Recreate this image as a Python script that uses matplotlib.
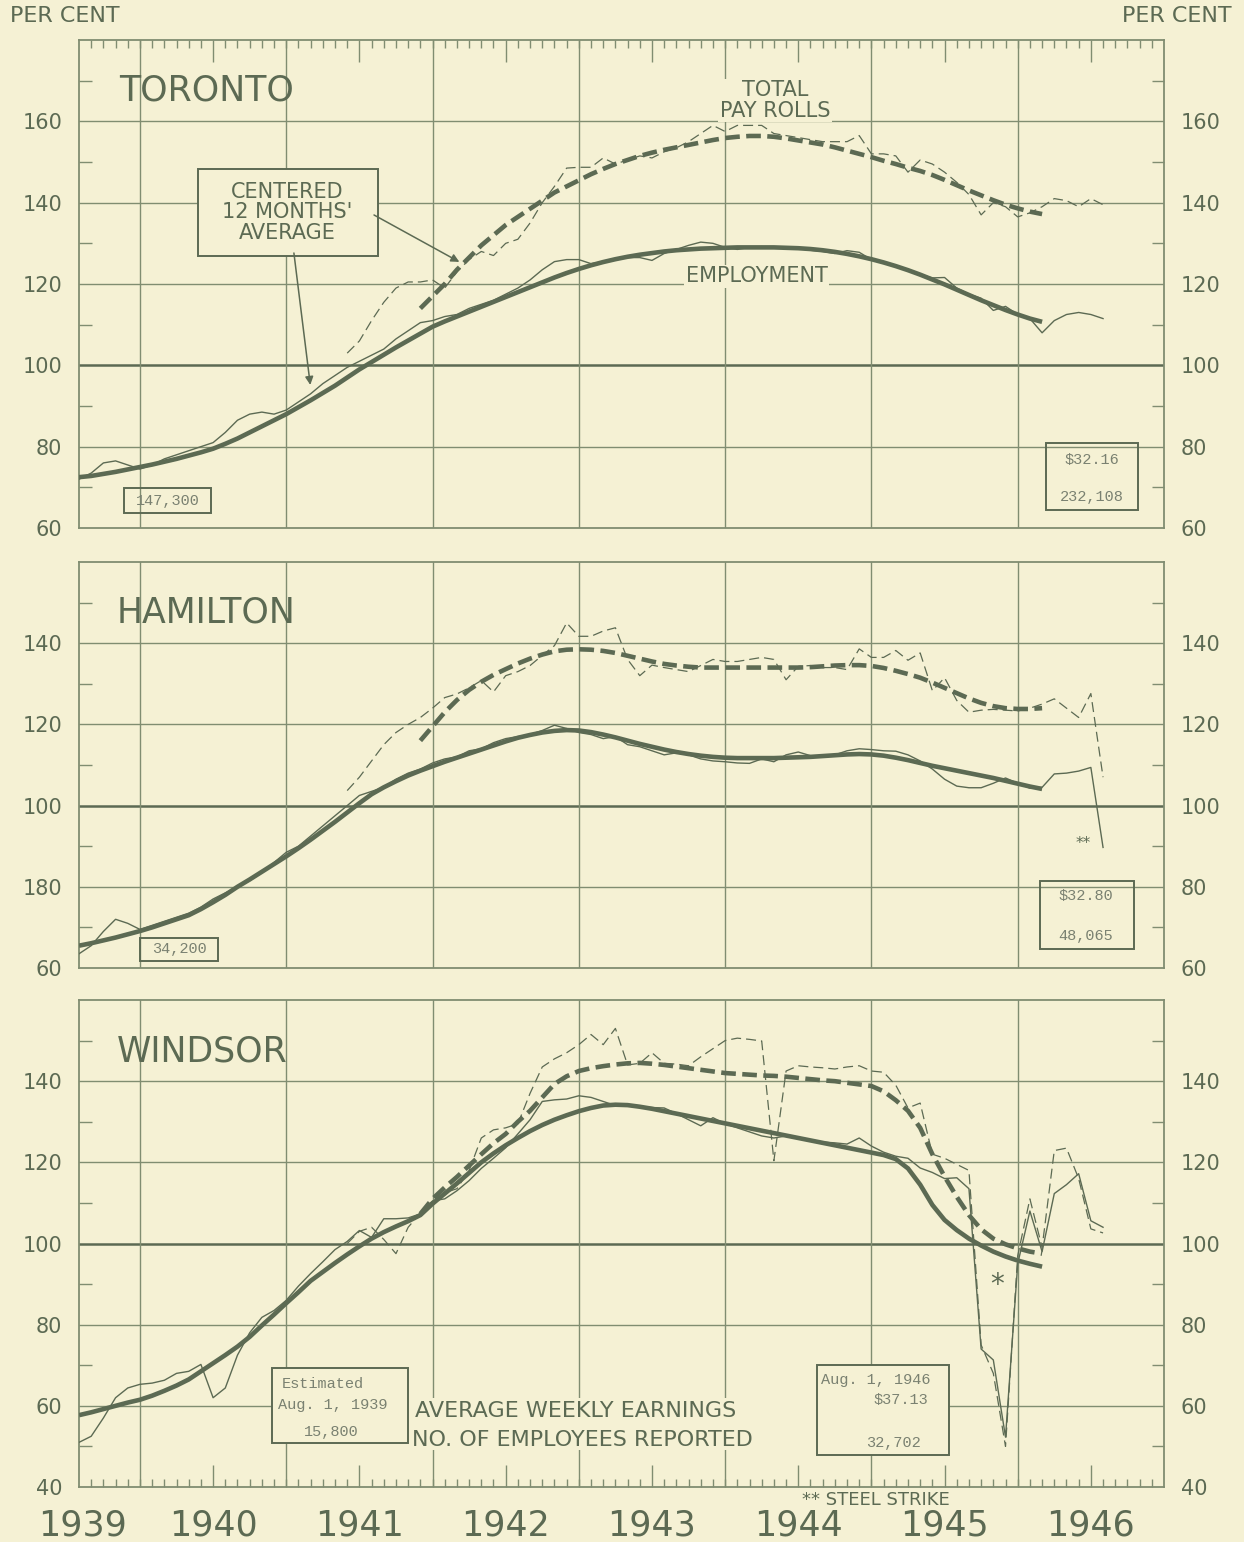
import matplotlib
matplotlib.use('Agg')
import matplotlib.pyplot as plt
import matplotlib.patches as patches
import matplotlib.transforms as mtransforms
import numpy as np

BG = '#f5f1d4'
INK = '#5c6a53'
GRID = '#808d71'
TYPE = '#7a8171'

# x axis in months counted from Aug 1939 (0); axis runs to Jan 1947 (89)
year_starts = [5, 17, 29, 41, 53, 65, 77]
mid_years = [11, 23, 35, 47, 59, 71, 83]
year_labels = ['1939', '1940', '1941', '1942', '1943', '1944', '1945', '1946']
year_label_pos = [0.3, 11, 23, 35, 47, 59, 71, 83]

EMP_START = 0      # Aug 1939
EMP_AVG_START = 0
PAY_START = 22     # Jun 1941
PAY_AVG_START = 28

# ---------------- Toronto ----------------
tor_emp = [72, 73.5, 76, 76.5, 75.5, 74.5, 75.5, 77, 78, 79,
           80, 81, 83.5, 86.5, 88, 88.5, 88, 89, 91, 93,
           95.5, 97.5, 99.5, 101, 102.5, 104, 106.5, 108.5, 110.5, 111,
           112, 112.5, 114, 115, 116, 117.5, 119, 121, 123.5, 125.5,
           126, 126, 125, 125.5, 126, 126.5, 126.5, 125.8, 127.5, 128.5,
           129.5, 130.3, 130, 129, 128.5, 129, 129.2, 128.8, 129, 128.7,
           128.3, 128, 127.5, 128.2, 127.8, 126, 125.2, 124.3, 123.5, 122.3,
           121.5, 121.6, 119, 117.5, 116.5, 113.5, 114.5, 112.5, 111.5, 108,
           111, 112.5, 113, 112.5, 111.5]
tor_emp_avg = [72.5, 72.8, 73.3, 73.8, 74.4, 75.0, 75.6, 76.3, 77.0, 77.8,
               78.6, 79.5, 80.7, 82.0, 83.5, 85.0, 86.5, 88.0, 89.7, 91.4,
               93.2, 95.0, 97.0, 99.0, 100.8, 102.6, 104.4, 106.1, 107.8, 109.5,
               110.8, 112.0, 113.2, 114.4, 115.6, 116.8, 118.0, 119.2, 120.4, 121.6,
               122.7, 123.7, 124.6, 125.4, 126.1, 126.7, 127.2, 127.6, 128.0, 128.3,
               128.5, 128.7, 128.8, 128.9, 129.0, 129.0, 129.0, 129.0, 128.9, 128.8,
               128.6, 128.3, 127.9, 127.4, 126.8, 126.1, 125.3, 124.4, 123.4, 122.3,
               121.1, 119.9, 118.6, 117.3, 116.0, 114.8, 113.6, 112.5, 111.5, 110.7]
tor_pay = [103, 106, 111, 115.5, 119, 120.5, 120.5, 121,
           119, 123, 126, 128, 127, 130, 131, 135, 140, 144,
           148.5, 148.7, 148.7, 151, 149.5, 150.5, 151.5, 151, 152.5, 153.5,
           155, 157, 159, 157.5, 159, 159, 159, 157, 156.5, 156,
           155.5, 155, 155, 155, 156.5, 152, 152, 151.5, 147.5, 150.5,
           149.5, 147.5, 145, 142, 137, 140, 139, 136.5, 137.5, 139,
           141, 140.5, 139, 141, 139.5]
tor_pay_avg = [114, 117, 120, 123.5, 126.5, 129.5, 132, 134.5, 136.5, 138.5,
               140.5, 142.5, 144, 145.5, 147, 148.3, 149.5, 150.5, 151.5, 152.3,
               153, 153.6, 154.2, 154.8, 155.4, 155.9, 156.2, 156.4, 156.4, 156.2,
               155.8, 155.3, 154.8, 154.3, 153.6, 152.8, 152, 151.2, 150.3, 149.5,
               148.6, 147.8, 146.8, 145.6, 144.3, 143, 141.8, 140.6, 139.5, 138.6,
               137.8, 137.2]

# ---------------- Hamilton ----------------
ham_emp = [63.5, 65.5, 69, 72, 71, 69.5, 70.5, 71.5, 72.5, 73.5,
           75, 77, 78.5, 80, 81.5, 83.5, 86, 88.5, 90, 92.5,
           95, 97.5, 100, 102.5, 103.5, 104.5, 106.5, 108, 109, 110.5,
           111.5, 112, 113.5, 114, 115.5, 116.5, 117, 117.5, 118.5, 119.8,
           119, 118, 117.5, 116.5, 117, 115, 114.5, 113.5, 112.5, 113,
           112.5, 111.5, 111, 110.8, 110.5, 110.4, 111.5, 110.8, 112.5, 113.2,
           112.3, 112, 112.5, 113.5, 114, 113.8, 113.5, 113.4, 112.5, 111,
           109, 106.5, 104.8, 104.4, 104.4, 105.5, 106.8, 105.5, 104.3, 104.5,
           107.8, 108, 108.5, 109.4, 89.7]
ham_emp_avg = [65.5, 66.1, 66.8, 67.5, 68.3, 69.1, 70.0, 71.0, 72.0, 73.0,
               74.5, 76.2, 78.0, 80.0, 81.8, 83.7, 85.6, 87.5, 89.5, 91.6,
               93.8, 96.0, 98.3, 100.6, 102.8, 104.5, 106.0, 107.4, 108.6, 109.7,
               110.8, 111.8, 112.8, 113.8, 114.8, 115.8, 116.7, 117.4, 118.0, 118.4,
               118.6, 118.5, 118.1, 117.5, 116.8, 116.0, 115.2, 114.5, 113.8, 113.2,
               112.7, 112.3, 112.0, 111.8, 111.7, 111.7, 111.7, 111.7, 111.8, 111.9,
               112.0, 112.2, 112.4, 112.6, 112.7, 112.6, 112.3, 111.8, 111.2, 110.5,
               109.8, 109.2, 108.6, 108.0, 107.4, 106.8, 106.1, 105.4, 104.7, 104.1]
ham_pay = [103.7, 107, 111, 115, 118, 120, 121.7, 124,
           126.6, 127.5, 129, 130.8, 128, 132, 133, 134.5, 137, 139.4,
           145, 141.7, 141.7, 143, 143.8, 136, 132, 134.6, 134, 133.5,
           133, 134.5, 136, 135.5, 135.5, 136, 136.5, 136, 131, 134.3,
           134.5, 134, 134, 133.5, 138.6, 136.5, 136.5, 138.2, 135.8, 137.6,
           128.3, 131.5, 125.9, 123, 123.5, 123.7, 123.5, 123.3, 124, 125,
           126.3, 124, 121.7, 127.6, 107]
ham_pay_avg = [116, 119.5, 123, 126, 128.5, 130.5, 132.2, 133.6, 135, 136.2,
               137.2, 138, 138.4, 138.5, 138.4, 138.1, 137.6, 136.9, 136.2, 135.5,
               134.9, 134.5, 134.2, 134, 134, 134, 134, 134, 134, 134,
               134, 134, 134.1, 134.3, 134.5, 134.6, 134.6, 134.4, 133.9, 133.2,
               132.4, 131.5, 130.3, 129, 127.7, 126.4, 125.3, 124.5, 124, 123.8,
               123.8, 124]

# ---------------- Windsor ----------------
win_emp = [51, 52.5, 57, 62, 64.4, 65.3, 65.6, 66.3, 68, 68.5,
           70.2, 62, 64.4, 72.5, 78, 81.8, 83.5, 86, 89.5, 92.6,
           95.5, 98.5, 100.5, 103.2, 101.5, 106.1, 106.1, 106.3, 107.3, 110.5,
           111, 113, 115.5, 118.5, 121, 123.6, 127, 130.5, 135, 135.4,
           135.6, 136.4, 136, 135, 134, 134, 133.8, 133.5, 133.4, 132,
           130.5, 129, 131, 129.5, 128.5, 127.5, 126.5, 126, 126.5, 126,
           125.5, 125, 124.8, 124.5, 126, 124, 122.5, 121.5, 121, 118.6,
           117.5, 116, 116.2, 113.5, 74, 71.3, 52.3, 95, 108, 98,
           112.3, 114.5, 117.2, 105.6, 104]
win_emp_avg = [57.7, 58.4, 59.2, 60.0, 60.8, 61.5, 62.5, 63.7, 65.0, 66.5,
               68.5, 70.5, 72.5, 74.6, 77.0, 79.8, 82.5, 85.3, 88.0, 90.8,
               93.0, 95.2, 97.3, 99.3, 101.2, 102.8, 104.2, 105.5, 107.0, 109.8,
               112.3, 114.8, 117.4, 120.0, 122.2, 124.2, 126.0, 127.7, 129.2, 130.5,
               131.6, 132.6, 133.4, 134.0, 134.2, 134.1, 133.7, 133.2, 132.6, 132.0,
               131.4, 130.8, 130.2, 129.6, 129.0, 128.4, 127.8, 127.2, 126.6, 126.0,
               125.4, 124.8, 124.2, 123.6, 123.0, 122.4, 121.8, 120.8, 118.5, 114.5,
               109.5, 105.8, 103.3, 101.2, 99.5, 98.0, 96.8, 95.8, 95.0, 94.3]
win_pay = [100, 103, 104, 101, 97.5, 104, 107.5, 110.5,
           112.5, 113.5, 118, 126, 128, 128.5, 129.5, 137, 143.5, 145.5,
           147, 149, 151.5, 149, 153, 144, 144.4, 147, 144.4, 144.2,
           143.8, 146, 148, 150, 150.6, 150.3, 149.9, 120.4, 142.5, 143.8,
           143.5, 143.3, 143, 143.5, 143.8, 142.5, 142.2, 139, 133.4, 134.6,
           122, 121, 119.5, 118, 75, 68, 50, 97, 111, 99,
           122.9, 123.5, 116, 103.6, 102.6]
win_pay_avg = [107.3, 111, 113.8, 116.4, 119.2, 122, 124.7, 127, 130, 132.7,
               136, 139.3, 141.2, 142.5, 143.2, 143.7, 144.1, 144.4, 144.5, 144.3,
               144, 143.6, 143.2, 142.8, 142.4, 142, 141.8, 141.6, 141.4, 141.3,
               141.1, 140.8, 140.5, 140.2, 140, 139.6, 139.2, 138.8, 137.5, 135.3,
               132.7, 128.5, 122, 116.5, 111.5, 107, 103.5, 101.2, 99.8, 98.8,
               98, 97.5]


def draw_series(ax, emp, emp_avg, pay, pay_avg):
    x_emp = np.arange(len(emp)) + EMP_START
    x_emp_avg = np.arange(len(emp_avg)) + EMP_AVG_START
    x_pay = np.arange(len(pay)) + PAY_START
    x_pay_avg = np.arange(len(pay_avg)) + PAY_AVG_START
    ax.plot(x_emp, emp, color=INK, lw=1.0, zorder=4)
    ax.plot(x_emp_avg, emp_avg, color=INK, lw=3.3, zorder=5,
            solid_capstyle='butt')
    ax.plot(x_pay, pay, color=INK, lw=0.9, zorder=4, dashes=(8, 4))
    ax.plot(x_pay_avg, pay_avg, color=INK, lw=3.3, zorder=5,
            dashes=(3.2, 1.4), dash_capstyle='butt')


def setup_panel(ax, ymin, ymax, left_labels, right_labels):
    ax.set_facecolor(BG)
    ax.set_xlim(0, 89)
    ax.set_ylim(ymin, ymax)
    for s in ax.spines.values():
        s.set_color(GRID)
        s.set_linewidth(1.3)
    majors = list(range(ymin + 20, ymax, 20))
    for v in majors:
        ax.axhline(v, color=INK if v == 100 else GRID,
                   lw=1.8 if v == 100 else 1.0, zorder=1)
    for xs in year_starts:
        ax.axvline(xs, color=GRID, lw=1.0, zorder=1)
    ticks = list(range(ymin, ymax, 20))
    ax.set_yticks(ticks, labels=left_labels)
    ax.set_yticks(list(range(ymin + 10, ymax, 20)), minor=True)
    ax.tick_params(axis='y', which='major', length=0, pad=12,
                   labelsize=15, labelcolor=INK)
    ax.tick_params(axis='y', which='minor', direction='in', length=9,
                   width=1.0, color=GRID, left=True, right=True)
    sec = ax.secondary_yaxis('right')
    sec.set_yticks(ticks, labels=right_labels)
    sec.tick_params(length=0, pad=12, labelsize=15, labelcolor=INK)
    sec.spines['right'].set_visible(False)
    ax.set_xticks(mid_years)
    ax.set_xticks(np.arange(1, 89), minor=True)
    ax.tick_params(axis='x', which='both', bottom=False, top=False,
                   labelbottom=False, labeltop=False, direction='in',
                   color=GRID, width=1.0)
    ax.tick_params(axis='x', which='major', length=16)
    ax.tick_params(axis='x', which='minor', length=6)


def type_box(ax, x0, y0, x1, y1):
    ax.add_patch(patches.Rectangle((x0, y0), x1 - x0, y1 - y0, fill=False,
                                   ec=INK, lw=1.4, zorder=6))


fig = plt.figure(figsize=(12.44, 15.42), dpi=100)
fig.patch.set_facecolor(BG)

W, H = 1244.0, 1542.0
left = 79 / W
width = 1085 / W
ax_t = fig.add_axes([left, 1 - 528 / H, width, 488 / H])
ax_h = fig.add_axes([left, 1 - 968 / H, width, 406 / H])
ax_w = fig.add_axes([left, 1 - 1487 / H, width, 487 / H])

setup_panel(ax_t, 60, 180, ['60', '80', '100', '120', '140', '160'],
            ['60', '80', '100', '120', '140', '160'])
setup_panel(ax_h, 60, 160, ['60', '180', '100', '120', '140'],
            ['60', '80', '100', '120', '140'])
setup_panel(ax_w, 40, 160, ['40', '60', '80', '100', '120', '140'],
            ['40', '60', '80', '100', '120', '140'])
ax_t.tick_params(axis='x', which='both', top=True)
ax_w.tick_params(axis='x', which='both', bottom=True)

draw_series(ax_t, tor_emp, tor_emp_avg, tor_pay, tor_pay_avg)
draw_series(ax_h, ham_emp, ham_emp_avg, ham_pay, ham_pay_avg)
draw_series(ax_w, win_emp, win_emp_avg, win_pay, win_pay_avg)

title_kw = dict(fontsize=25, color=INK, va='center', ha='left', zorder=7)
ax_t.text(3.3, 167.6, 'TORONTO', **title_kw)
ax_h.text(3.1, 147.5, 'HAMILTON', **title_kw)
ax_w.text(3.1, 147.4, 'WINDSOR', **title_kw)

lab_kw = dict(fontsize=15, color=INK, ha='center', va='center', zorder=7)
ax_t.text(57.1, 165.1, 'TOTAL\nPAY ROLLS', linespacing=1.05,
          bbox=dict(fc=BG, ec='none', pad=1), **lab_kw)
ax_t.text(55.6, 121.9, 'EMPLOYMENT',
          bbox=dict(fc=BG, ec='none', pad=1), **lab_kw)

# centered average callout
ax_t.add_patch(patches.Rectangle((9.8, 126.8), 14.7, 21.6, fc=BG, ec=INK,
                                 lw=1.4, zorder=6))
ax_t.text(17.1, 137.6, "CENTERED\n12 MONTHS'\nAVERAGE", linespacing=1.05,
          **lab_kw)
arrow_kw = dict(arrowstyle='-|>', color=INK, lw=1.1, mutation_scale=12)
ax_t.annotate('', xy=(31.4, 125.1), xytext=(24.0, 137.3),
              arrowprops=arrow_kw, zorder=7)
ax_t.annotate('', xy=(19.0, 94.5), xytext=(17.6, 128.3),
              arrowprops=arrow_kw, zorder=7)

mono = dict(family='Liberation Mono', fontsize=11, color=TYPE, zorder=7)

# Toronto boxes
type_box(ax_t, 3.7, 63.6, 10.8, 69.8)
ax_t.text(7.25, 66.7, '147,300', ha='center', va='center', **mono)
type_box(ax_t, 79.3, 64.4, 86.9, 80.8)
ax_t.text(83.1, 76.7, '$32.16', ha='center', va='center', **mono)
ax_t.text(83.1, 67.6, '232,108', ha='center', va='center', **mono)

# Hamilton boxes
type_box(ax_h, 5.0, 61.8, 11.4, 67.5)
ax_h.text(8.2, 64.7, '34,200', ha='center', va='center', **mono)
type_box(ax_h, 78.8, 64.8, 86.5, 81.5)
ax_h.text(82.6, 77.8, '$32.80', ha='center', va='center', **mono)
ax_h.text(82.6, 68.0, '48,065', ha='center', va='center', **mono)
ax_h.text(82.4, 90.6, '**', ha='center', va='center', fontsize=11,
          color=INK, zorder=7)

# Windsor boxes and legend text
ax_w.add_patch(patches.Rectangle((15.8, 50.9), 11.2, 18.4, fc=BG, ec=INK,
                                 lw=1.4, zorder=6))
ax_w.text(16.6, 65.4, 'Estimated', ha='left', va='center', **mono)
ax_w.text(16.3, 60.2, 'Aug. 1, 1939', ha='left', va='center', **mono)
ax_w.text(20.7, 53.6, '15,800', ha='center', va='center', **mono)
ax_w.add_patch(patches.Rectangle((60.5, 47.9), 10.9, 22.1, fc=BG, ec=INK,
                                 lw=1.4, zorder=6))
ax_w.text(60.9, 66.3, 'Aug. 1, 1946', ha='left', va='center', **mono)
ax_w.text(67.4, 61.4, '$37.13', ha='center', va='center', **mono)
ax_w.text(66.8, 50.9, '32,702', ha='center', va='center', **mono)
ax_w.add_patch(patches.Rectangle((27.0, 49.0), 33.5, 13.0, fc=BG, ec='none',
                                 zorder=5.5))
ax_w.text(27.6, 58.7, 'AVERAGE WEEKLY EARNINGS', ha='left', va='center',
          fontsize=16, color=INK, zorder=7)
ax_w.text(27.3, 51.6, 'NO. OF EMPLOYEES REPORTED', ha='left', va='center',
          fontsize=16, color=INK, zorder=7)
ax_w.text(75.3, 89.7, '*', ha='center', va='center', fontsize=20,
          color=INK, zorder=7)

# year labels under the bottom panel
trans = mtransforms.blended_transform_factory(ax_w.transData, fig.transFigure)
for pos, lab in zip(year_label_pos, year_labels):
    ax_w.text(pos, 1 - 1525 / H, lab, transform=trans, ha='center',
              va='center', fontsize=25, color=INK, clip_on=False)

fig.text(876 / W, 1 - 1500 / H, '** STEEL STRIKE', ha='center', va='center',
         fontsize=13, color=INK)
fig.text(10 / W, 1 - 16 / H, 'PER CENT', ha='left', va='center',
         fontsize=16, color=INK)
fig.text(1232 / W, 1 - 16 / H, 'PER CENT', ha='right', va='center',
         fontsize=16, color=INK)

fig.savefig('out.png', dpi=100, facecolor=BG)
